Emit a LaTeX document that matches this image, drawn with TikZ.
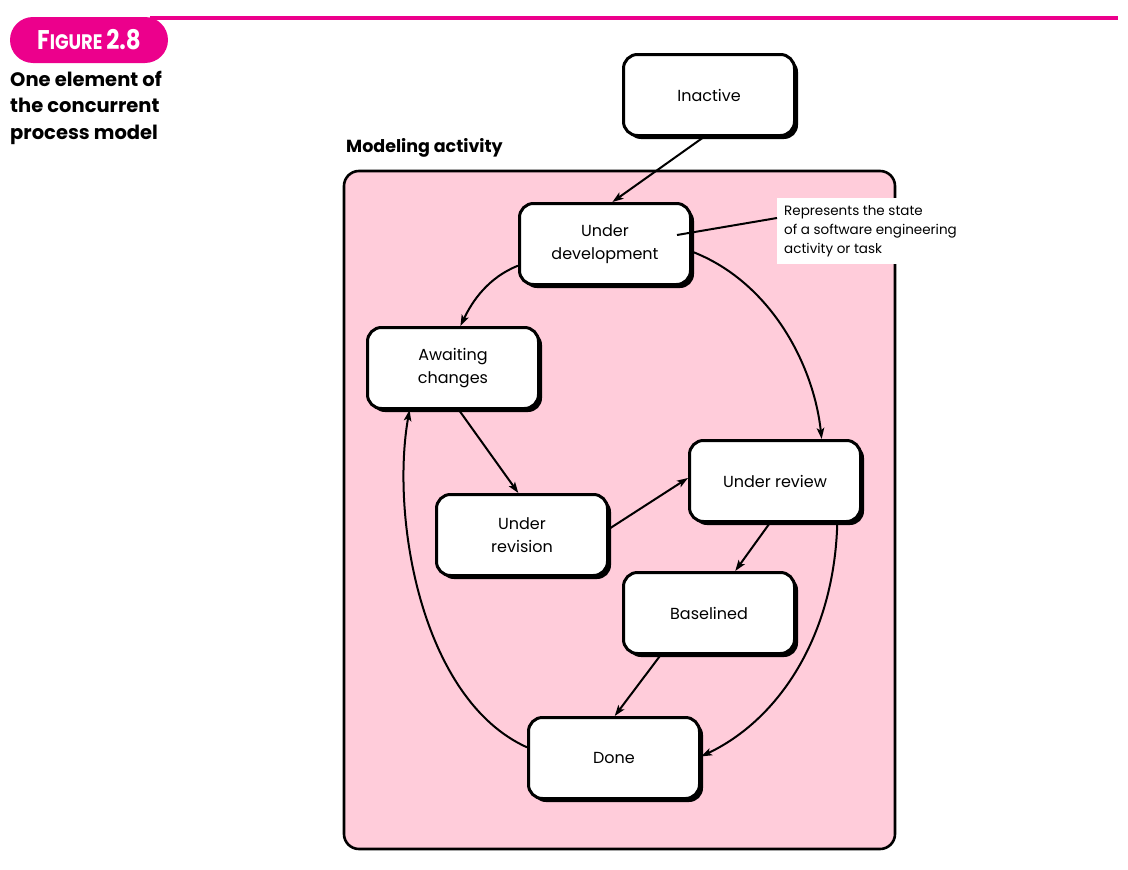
\documentclass[tikz,border=0pt]{standalone}
\usepackage{fontspec}
\setmainfont{Poppins}
\usetikzlibrary{shadows,arrows.meta}
\definecolor{modelpink}{RGB}{255,204,218}
\definecolor{figmagenta}{RGB}{236,0,140}
\tikzset{
  state/.style={draw,line width=3pt,fill=white,rounded corners=14pt,
    minimum width=171pt,minimum height=81pt,align=center,
    font=\fontsize{16}{23}\selectfont,
    drop shadow={shadow xshift=3.5pt,shadow yshift=-3.5pt,fill=black,opacity=1}},
  flow/.style={->,line width=2pt}
}
\begin{document}
\begin{tikzpicture}[>={Stealth[length=11pt,width=7.5pt,inset=2.5pt]},line join=round,x=1pt,y=-1pt]
	\useasboundingbox (0,0) rectangle (1128,870);
	% header
	\fill[figmagenta] (150,15.5) rectangle (1118,19.5);
	\fill[figmagenta,rounded corners=23pt] (10,17) rectangle (168,63);
	\node[white,font=\bfseries] (fig) at (89,40) {\scalebox{.85}[1]{\fontsize{27}{27}\selectfont F\fontsize{21}{21}\selectfont IGURE \fontsize{27}{27}\selectfont 2.8}};
	\node[anchor=north west,align=left,inner sep=0pt,font=\bfseries\fontsize{19.5}{26.5}\selectfont] (cap) at (10,71) {One element of\\the concurrent\\process model};
	% activity region
	\node[anchor=base west,inner sep=0pt,font=\bfseries\fontsize{17.5}{20}\selectfont] (act) at (346,152) {Modeling activity};
	\draw[line width=2.6pt,fill=modelpink,rounded corners=15pt] (344,171) rectangle (895,849);
	% states
	\node[state] (inactive) at (709,95) {Inactive};
	\node[state] (ud) at (605,244) {Under\\development};
	\node[state] (ac) at (453,368) {Awaiting\\changes};
	\node[state] (uv) at (522,535) {Under\\revision};
	\node[state] (ur) at (775,481) {Under review};
	\node[state] (bl) at (709,613) {Baselined};
	\node[state] (done) at (614,758) {Done};
	% callout
	\node[anchor=north west,fill=white,align=left,inner xsep=7pt,inner ysep=7pt,font=\fontsize{13.5}{19}\selectfont] (note) at (777,198) {Represents the state\\of a software engineering\\activity or task};
	\draw[line width=2pt] ([xshift=72pt,yshift=9pt]ud.center) -- (note.west|-777,218);
	% transitions
	\draw[flow] (inactive.-97) -- (ud.80);
	\draw[flow] (ud.-166) .. controls +(-30,12) and +(12,-25) .. (ac.80);
	\draw[flow] (ud.-5) .. controls +(78,30) and +(-8,-75) .. (ur.42);
	\draw[flow] (ac.-82) -- (uv.95);
	\draw[flow] (uv.4) -- (ur.178);
	\draw[flow] (ur.-97) -- (bl.58);
	\draw[flow] (bl.-139) -- (done.89);
	\draw[flow] (ur.-34) .. controls +(-3,113) and +(78,-37) .. (done.1);
	\draw[flow] (done.173) .. controls +(-106,-48) and +(-19,107) .. (ac.-136);
\end{tikzpicture}
\end{document}
